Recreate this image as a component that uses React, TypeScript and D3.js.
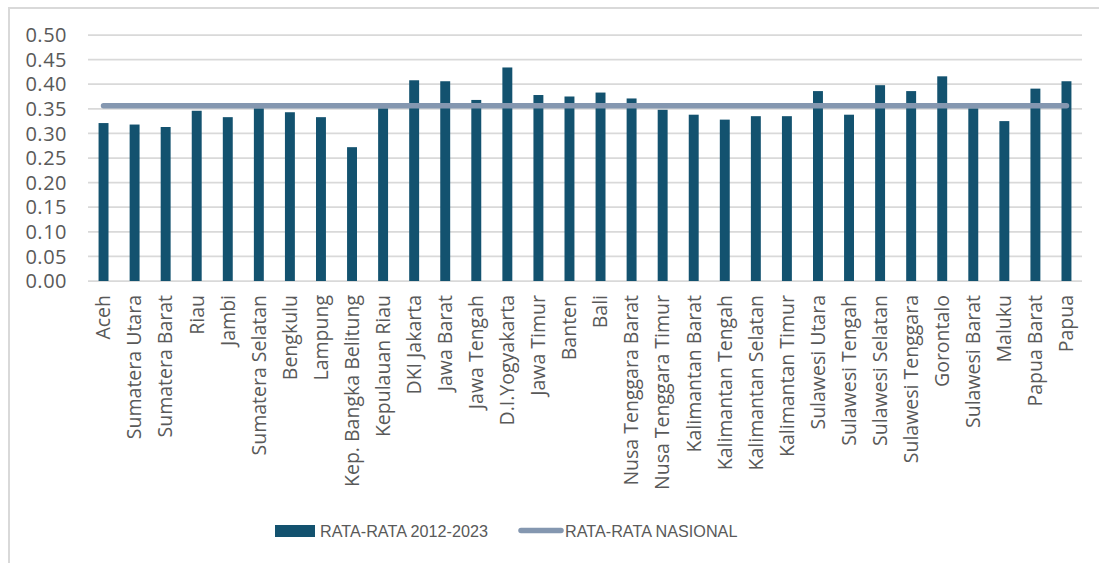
import React from "react";
import * as d3 from "d3";

const categories: string[] = [
  "Aceh", "Sumatera Utara", "Sumatera Barat", "Riau", "Jambi", "Sumatera Selatan",
  "Bengkulu", "Lampung", "Kep. Bangka Belitung", "Kepulauan Riau", "DKI Jakarta",
  "Jawa Barat", "Jawa Tengah", "D.I.Yogyakarta", "Jawa Timur", "Banten", "Bali",
  "Nusa Tenggara Barat", "Nusa Tenggara Timur", "Kalimantan Barat", "Kalimantan Tengah",
  "Kalimantan Selatan", "Kalimantan Timur", "Sulawesi Utara", "Sulawesi Tengah",
  "Sulawesi Selatan", "Sulawesi Tenggara", "Gorontalo", "Sulawesi Barat", "Maluku",
  "Papua Barat", "Papua",
];

const rataRata: number[] = [
  0.321, 0.318, 0.313, 0.346, 0.333, 0.351, 0.343, 0.333, 0.272, 0.351, 0.408,
  0.406, 0.368, 0.434, 0.378, 0.375, 0.383, 0.371, 0.348, 0.338, 0.328,
  0.335, 0.335, 0.386, 0.338, 0.398, 0.386, 0.416, 0.351, 0.325,
  0.391, 0.406,
];

const rataNasional: number[] = categories.map(() => 0.356);

const yTicks: number[] = [0, 0.05, 0.1, 0.15, 0.2, 0.25, 0.3, 0.35, 0.4, 0.45, 0.5];

const legendLabels: string[] = ["RATA-RATA 2012-2023", "RATA-RATA NASIONAL"];

const W = 1099;
const H = 563;
const BAR = "#13526F";
const LINE = "#8497B0";
const TXT = "#595959";
const GRID = "#D9D9D9";

export default function App() {
  const x = d3
    .scaleBand<string>()
    .domain(categories)
    .range([88, 1082])
    .paddingInner(0.68)
    .paddingOuter(0.34);
  const y = d3.scaleLinear().domain([0, 0.5]).range([281, 35]);
  const fmt = d3.format(".2f");
  const cx = (c: string) => (x(c) as number) + x.bandwidth() / 2;

  const line = d3
    .line<number>()
    .x((_, i) => cx(categories[i]))
    .y((d) => y(d));

  return (
    <div style={{ position: "absolute", left: 0, top: 0 }}>
      <svg width={W} height={H} style={{ display: "block", background: "#fff" }}>
        <rect x={9} y={8} width={W + 10} height={H + 10} fill="#fff" stroke={GRID} strokeWidth={2} />
        {yTicks.map((t) => (
          <g key={t}>
            <line x1={88} x2={1082} y1={y(t)} y2={y(t)} stroke={GRID} strokeWidth={1.75} />
            <text
              x={67}
              y={y(t)}
              dy="0.36em"
              textAnchor="end"
              fontFamily="'Open Sans', sans-serif"
              fontSize={20}
              letterSpacing={0.5}
              fill={TXT}
            >
              {fmt(t)}
            </text>
          </g>
        ))}
        {categories.map((c, i) => (
          <rect
            key={c}
            x={x(c) as number}
            y={y(rataRata[i])}
            width={x.bandwidth()}
            height={y(0) - y(rataRata[i])}
            fill={BAR}
          />
        ))}
        <path
          d={line(rataNasional) || ""}
          fill="none"
          stroke={LINE}
          strokeWidth={5.5}
          strokeLinecap="round"
        />
        {categories.map((c) => (
          <text
            key={c}
            transform={`translate(${cx(c)},295) rotate(-90)`}
            dy="0.35em"
            textAnchor="end"
            fontFamily="'Open Sans', sans-serif"
            fontSize={19.5}
            fill={TXT}
          >
            {c}
          </text>
        ))}
        <g>
          <rect x={275} y={525} width={40} height={12} fill={BAR} />
          <text x={320} y={536.5} fontFamily="'Liberation Sans', Arial, sans-serif" fontSize={16.2} fill={TXT}>
            {legendLabels[0]}
          </text>
          <line x1={521} x2={561} y1={530.5} y2={530.5} stroke={LINE} strokeWidth={5.5} strokeLinecap="round" />
          <text x={565} y={536.5} fontFamily="'Liberation Sans', Arial, sans-serif" fontSize={16.2} fill={TXT}>
            {legendLabels[1]}
          </text>
        </g>
      </svg>
    </div>
  );
}
